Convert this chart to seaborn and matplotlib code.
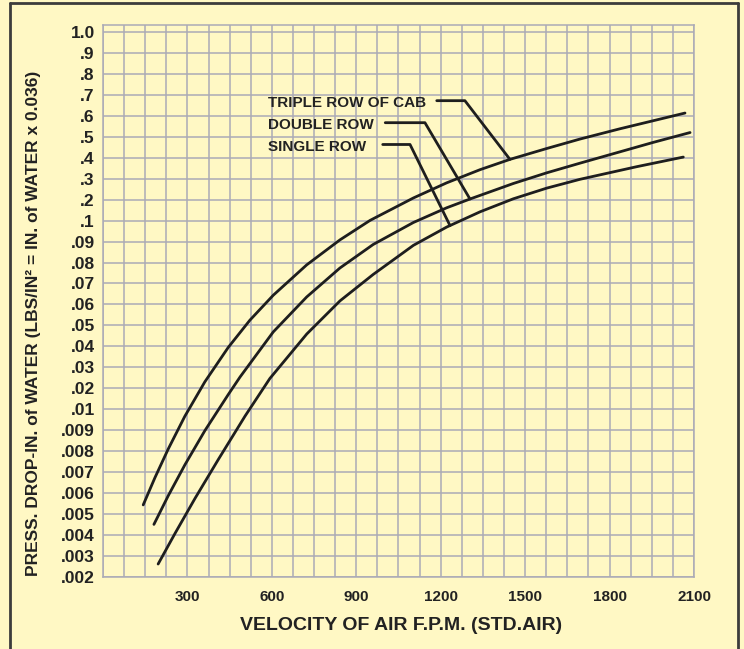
import numpy as np
import pandas as pd
import seaborn as sns
import matplotlib.pyplot as plt
from matplotlib.lines import Line2D
from matplotlib.ticker import NullLocator

# --- chart scale: evenly spaced, hand-labelled pressure-drop rows ---
y_tick_values = [0.002, 0.003, 0.004, 0.005, 0.006, 0.007, 0.008, 0.009,
                 0.01, 0.02, 0.03, 0.04, 0.05, 0.06, 0.07, 0.08, 0.09,
                 0.1, 0.2, 0.3, 0.4, 0.5, 0.6, 0.7, 0.8, 0.9, 1.0]
y_tick_labels = [".002", ".003", ".004", ".005", ".006", ".007", ".008", ".009",
                 ".01", ".02", ".03", ".04", ".05", ".06", ".07", ".08", ".09",
                 ".1", ".2", ".3", ".4", ".5", ".6", ".7", ".8", ".9", "1.0"]
x_ticks = [300, 600, 900, 1200, 1500, 1800, 2100]

# --- curves (velocity fpm, pressure drop) ---
triple_fpm = [143, 185, 232, 291, 362, 445, 522, 605, 724, 842, 949, 1103,
              1221, 1340, 1446, 1577, 1695, 1837, 2068]
triple_drop = [0.00544, 0.00675, 0.00811, 0.00967, 0.0231, 0.0395, 0.0525, 0.0644,
               0.0789, 0.0908, 0.101, 0.208, 0.280, 0.343, 0.392, 0.444, 0.489,
               0.538, 0.613]

double_fpm = [181, 232, 291, 362, 445, 487, 605, 724, 842, 960, 1103, 1221,
              1304, 1458, 1577, 1695, 1955, 2086]
double_drop = [0.00451, 0.00588, 0.00735, 0.00898, 0.0170, 0.0254, 0.0469, 0.0636,
               0.0774, 0.0886, 0.0991, 0.161, 0.203, 0.277, 0.328, 0.374, 0.473,
               0.520]

single_fpm = [196, 256, 327, 410, 505, 593, 724, 842, 960, 1103, 1221, 1340,
              1458, 1577, 1695, 1896, 2062]
single_drop = [0.00262, 0.00408, 0.00575, 0.00761, 0.00968, 0.0247, 0.0459, 0.0617,
               0.0743, 0.0882, 0.0969, 0.142, 0.204, 0.255, 0.297, 0.357, 0.403]

names = ["TRIPLE ROW OF CAB", "DOUBLE ROW", "SINGLE ROW"]

df = pd.concat([
    pd.DataFrame({"fpm": triple_fpm, "drop": triple_drop, "coil": names[0]}),
    pd.DataFrame({"fpm": double_fpm, "drop": double_drop, "coil": names[1]}),
    pd.DataFrame({"fpm": single_fpm, "drop": single_drop, "coil": names[2]}),
])

# piecewise scale so every labelled row is one grid step
scale_vals = np.array([0.001] + y_tick_values + [1.1])
scale_pos = np.arange(-1, len(y_tick_values) + 1, dtype=float)


def forward(v):
    return np.interp(v, scale_vals, scale_pos)


def inverse(p):
    return np.interp(p, scale_pos, scale_vals)


bg = "#FFF8C4"
grid_col = "#ABABB6"
ink = "#1E1E1E"

sns.set_style("white")
plt.rcParams["font.family"] = ["Liberation Sans", "DejaVu Sans"]
plt.rcParams["font.weight"] = "bold"

fig = plt.figure(figsize=(7.44, 6.49), dpi=100)
fig.patch.set_facecolor(bg)
ax = fig.add_axes([0.1384, 0.1109, 0.7944, 0.8506])
ax.set_facecolor(bg)
ax.set_yscale("function", functions=(forward, inverse))

sns.lineplot(data=df, x="fpm", y="drop", hue="coil", palette=[ink] * 3,
             linewidth=2.0, legend=False, ax=ax, sort=False, estimator=None)

ax.set_xlim(0, 2100)
ax.set_ylim(0.002, inverse(26.33))
ax.set_xticks(x_ticks)
ax.set_xticks(np.arange(0, 2101, 75), minor=True)
ax.set_yticks(y_tick_values)
ax.set_yticklabels(y_tick_labels)
ax.yaxis.set_minor_locator(NullLocator())
ax.grid(True, which="both", color=grid_col, linewidth=1.1)
ax.set_axisbelow(True)
ax.tick_params(axis="both", which="both", length=0)
ax.tick_params(axis="y", labelsize=12.5, pad=6)
ax.tick_params(axis="x", labelsize=11, pad=9)
for lab in ax.get_xticklabels() + ax.get_yticklabels():
    lab.set_fontweight("bold")
    lab.set_color("#222222")
for sp in ax.spines.values():
    sp.set_color(grid_col)
    sp.set_linewidth(1.1)

ax.set_xlabel("VELOCITY OF AIR F.P.M. (STD.AIR)", fontsize=14, fontweight="bold", color="#222222")
ax.xaxis.set_label_coords(0.504, -0.0725)
ax.set_ylabel("PRESS. DROP-IN. of WATER (LBS/IN\u00b2 = IN. of WATER x 0.036)",
              fontsize=12.5, fontweight="bold", color="#222222")
ax.yaxis.set_label_coords(-0.105, 0.46)

# leader lines from labels to curves
leaders = [
    (names[0], triple_fpm, triple_drop, 22.72, 1186, 1286, 1446),
    (names[1], double_fpm, double_drop, 21.67, 1003, 1144, 1304),
    (names[2], single_fpm, single_drop, 20.63, 994, 1091, 1233),
]
for name, fx, fy, row, x0, x1, x2 in leaders:
    y_row = inverse(row)
    y_end = inverse(np.interp(x2, fx, forward(np.array(fy))))
    ax.plot([x0, x1, x2], [y_row, y_row, y_end], color=ink, linewidth=2.0)
    ax.text(586, inverse(row - 0.12), name, fontsize=11, fontweight="bold",
            color="#222222", va="center", ha="left")

# outer frame
fc = "#3C3C3C"
fig.add_artist(Line2D([9.5 / 744, 9.5 / 744], [0, 1 - 2.5 / 649], color=fc, lw=2))
fig.add_artist(Line2D([9.5 / 744, 738 / 744], [1 - 2.5 / 649, 1 - 2.5 / 649], color=fc, lw=2))
fig.add_artist(Line2D([738 / 744, 738 / 744], [0, 1 - 2.5 / 649], color=fc, lw=2))

fig.savefig("out.png", dpi=100, facecolor=bg)
